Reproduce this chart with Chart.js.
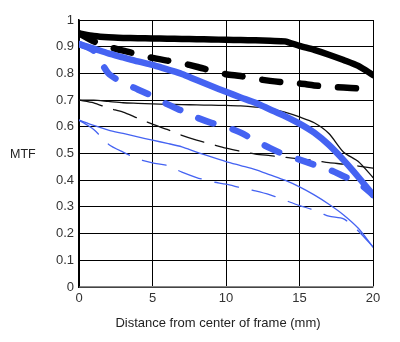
<!DOCTYPE html>
<html>
<head>
<meta charset="utf-8">
<script src="https://cdn.jsdelivr.net/npm/chart.js@4"></script>
<style>
  html, body { margin: 0; padding: 0; background: #fff; }
  #wrap { width: 400px; height: 342px; }
</style>
</head>
<body>
<div id="wrap"><canvas id="mtf" width="400" height="342"></canvas></div>
<script>
// distance from center of frame (mm)
const distance = [0, 1, 2, 3, 4, 5, 6, 7, 8, 9, 10, 11, 12, 13, 14, 15, 16, 17, 18, 19, 20];
const yTickLabels = ['0', '0.1', '0.2', '0.3', '0.4', '0.5', '0.6', '0.7', '0.8', '0.9', '1'];

// thick lines (10 lp/mm)
const blackSagThick = [0.95, 0.94, 0.935, 0.933, 0.932, 0.931, 0.93, 0.929, 0.928, 0.927, 0.926, 0.925, 0.924, 0.922, 0.92, 0.903, 0.888, 0.87, 0.85, 0.828, 0.794];
const blackMerThick = [0.95, 0.92, 0.9, 0.885, 0.872, 0.858, 0.848, 0.838, 0.825, 0.81, 0.797, 0.79, 0.78, 0.772, 0.766, 0.762, 0.755, 0.75, 0.747, 0.744, 0.742];
const blueSagThick = [0.91, 0.893, 0.875, 0.86, 0.845, 0.832, 0.815, 0.798, 0.775, 0.753, 0.731, 0.71, 0.69, 0.665, 0.64, 0.612, 0.578, 0.532, 0.475, 0.412, 0.345];
const blueMerThick = [0.91, 0.885, 0.8, 0.765, 0.74, 0.715, 0.685, 0.66, 0.635, 0.615, 0.6, 0.578, 0.548, 0.52, 0.495, 0.477, 0.458, 0.44, 0.415, 0.39, 0.345];

// thin lines (30 lp/mm)
const blackSagThin = [0.70, 0.70, 0.695, 0.69, 0.688, 0.686, 0.684, 0.683, 0.682, 0.681, 0.68, 0.678, 0.674, 0.668, 0.655, 0.637, 0.615, 0.575, 0.505, 0.47, 0.41];
const blackMerThin = [0.70, 0.69, 0.67, 0.655, 0.632, 0.61, 0.59, 0.568, 0.55, 0.535, 0.52, 0.508, 0.498, 0.492, 0.486, 0.48, 0.474, 0.466, 0.46, 0.453, 0.445];
const blueSagThin = [0.625, 0.605, 0.588, 0.575, 0.562, 0.55, 0.538, 0.525, 0.505, 0.487, 0.47, 0.455, 0.44, 0.42, 0.4, 0.375, 0.345, 0.31, 0.27, 0.22, 0.15];
const blueMerThin = [0.625, 0.59, 0.535, 0.505, 0.48, 0.465, 0.455, 0.43, 0.41, 0.395, 0.385, 0.372, 0.36, 0.345, 0.325, 0.305, 0.288, 0.265, 0.255, 0.21, 0.15];

const BLUE = '#4563f2';

function pts(vals) {
    return vals.map((v, i) => ({ x: distance[i], y: v }));
}

function line(vals, color, width, dash) {
    return {
        data: pts(vals),
        borderColor: color,
        borderWidth: width,
        borderDash: dash || [],
        borderCapStyle: 'round',
        borderJoinStyle: 'round',
        pointRadius: 0,
        tension: 0.25,
        fill: false
    };
}

// labels drawn outside the plot area
const axisText = {
    id: 'axisText',
    afterDraw(chart) {
        const c = chart.ctx;
        c.save();
        c.fillStyle = '#222';
        c.textBaseline = 'middle';
        c.textAlign = 'left';
        c.font = '12.5px "Liberation Sans", Arial, sans-serif';
        c.fillText('MTF', 10, 155);
        c.textAlign = 'center';
        c.font = '13px "Liberation Sans", Arial, sans-serif';
        c.fillText('Distance from center of frame (mm)', 218, 323);
        c.restore();
    }
};

const ctx = document.getElementById('mtf').getContext('2d');
new Chart(ctx, {
    type: 'line',
    data: {
        datasets: [
            line(blueSagThick, BLUE, 6.5),
            line(blueMerThick, BLUE, 6.5, [16, 20]),
            line(blackSagThick, '#000', 6.5),
            line(blackMerThick, '#000', 6.5, [18, 20]),
            line(blackSagThin, '#111', 1.3),
            line(blackMerThin, '#111', 1.3, [24, 12]),
            line(blueSagThin, BLUE, 1.3),
            line(blueMerThin, BLUE, 1.3, [24, 14])
        ]
    },
    options: {
        responsive: false,
        animation: false,
        events: [],
        layout: { padding: { top: 20, right: 27, left: 0, bottom: 0 } },
        plugins: {
            legend: { display: false },
            tooltip: { enabled: false }
        },
        scales: {
            x: {
                type: 'linear',
                min: 0,
                max: 20,
                afterFit: s => { s.height = 55; },
                border: { color: '#888', width: 1.5 },
                grid: { color: '#000', lineWidth: 1, drawTicks: false },
                ticks: {
                    stepSize: 5,
                    padding: 4,
                    color: '#333',
                    font: { family: '"Liberation Sans", Arial, sans-serif', size: 13 }
                }
            },
            y: {
                min: 0,
                max: 1,
                afterFit: s => { s.width = 79; },
                border: { color: '#000', width: 1.5 },
                grid: { color: '#000', lineWidth: 1, drawTicks: false },
                ticks: {
                    stepSize: 0.1,
                    padding: 5,
                    color: '#333',
                    font: { family: '"Liberation Sans", Arial, sans-serif', size: 13 },
                    callback: (v, i) => yTickLabels[i]
                }
            }
        }
    },
    plugins: [axisText]
});
</script>
</body>
</html>
